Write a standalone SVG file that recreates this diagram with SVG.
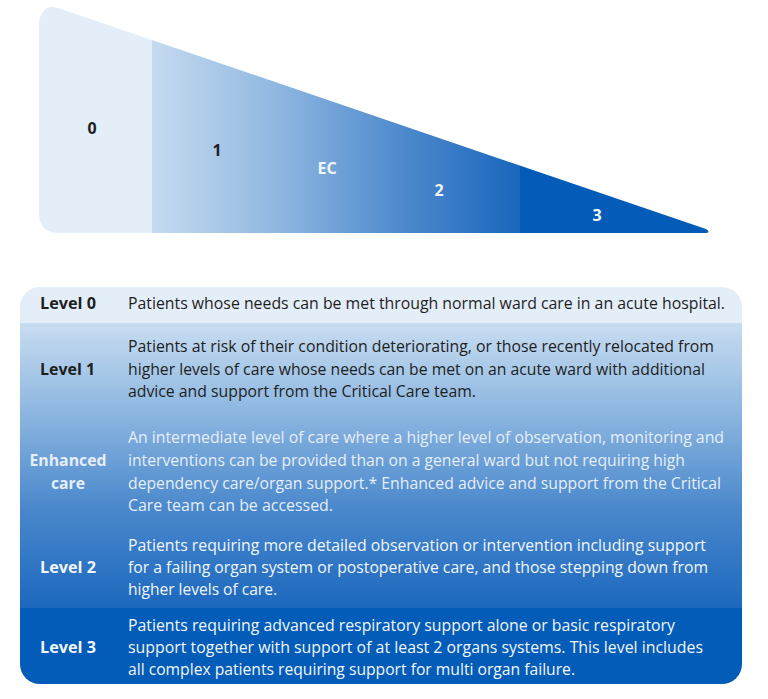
<svg xmlns="http://www.w3.org/2000/svg" width="768" height="699" viewBox="0 0 768 699">
<defs>
<style>
.t{font-family:"Open Sans","Noto Sans",sans-serif;font-size:16px;}
.b{font-family:"Open Sans","Noto Sans",sans-serif;font-size:16px;font-weight:bold;}
.dk{fill:#1e1e1e;}
.lt{fill:#f2f6fb;}
.ec{fill:#e6eef8;}
</style>
<linearGradient id="wg" x1="152" y1="0" x2="520" y2="0" gradientUnits="userSpaceOnUse">
<stop offset="0" stop-color="#c6dbf0"/>
<stop offset="0.35" stop-color="#8db6e0"/>
<stop offset="0.7" stop-color="#4a87cb"/>
<stop offset="1" stop-color="#1a67bd"/>
</linearGradient>
<linearGradient id="tg" x1="0" y1="323" x2="0" y2="608" gradientUnits="userSpaceOnUse">
<stop offset="0" stop-color="#c8ddf1"/>
<stop offset="0.3" stop-color="#8fb8e1"/>
<stop offset="0.65" stop-color="#4a88cc"/>
<stop offset="1" stop-color="#1c68be"/>
</linearGradient>
<clipPath id="wedge">
<path d="M39,26 C39,11 47,4 58,8 L706,229 Q712,233 704,233 L59,233 Q39,233 39,213 Z"/>
</clipPath>
<clipPath id="table">
<rect x="20" y="287" width="722" height="397" rx="20" ry="20"/>
</clipPath>
</defs>

<g id="pyramid" clip-path="url(#wedge)">
<rect x="30" y="0" width="122" height="240" fill="#e3eef8"/>
<rect x="152" y="0" width="368" height="240" fill="url(#wg)"/>
<rect x="520" y="0" width="200" height="240" fill="#055cb8"/>
</g>
<g id="pyramid-labels">
<text class="b dk" x="92" y="134" text-anchor="middle">0</text>
<text class="b dk" x="217" y="156" text-anchor="middle">1</text>
<text class="b lt" x="327" y="174" text-anchor="middle">EC</text>
<text class="b lt" x="439" y="196" text-anchor="middle">2</text>
<text class="b lt" x="597" y="221" text-anchor="middle">3</text>
</g>

<g id="table-bg" clip-path="url(#table)">
<rect x="20" y="287" width="722" height="36" fill="#e4eef8"/>
<rect x="20" y="323" width="722" height="285" fill="url(#tg)"/>
<rect x="20" y="608" width="722" height="76" fill="#035cb7"/>
</g>

<g id="level0">
<text class="b dk" x="40" y="309" textLength="56" lengthAdjust="spacingAndGlyphs">Level 0</text>
<text class="t dk" x="128" y="309" textLength="597" lengthAdjust="spacingAndGlyphs">Patients whose needs can be met through normal ward care in an acute hospital.</text>
</g>
<g id="level1">
<text class="b dk" x="40" y="375" textLength="55" lengthAdjust="spacingAndGlyphs">Level 1</text>
<text class="t dk" x="128" y="352" textLength="586" lengthAdjust="spacingAndGlyphs">Patients at risk of their condition deteriorating, or those recently relocated from</text>
<text class="t dk" x="128" y="375" textLength="577" lengthAdjust="spacingAndGlyphs">higher levels of care whose needs can be met on an acute ward with additional</text>
<text class="t dk" x="128" y="397" textLength="348" lengthAdjust="spacingAndGlyphs">advice and support from the Critical Care team.</text>
</g>
<g id="enhanced">
<text class="b ec" x="68" y="466" text-anchor="middle" textLength="77" lengthAdjust="spacingAndGlyphs">Enhanced</text>
<text class="b ec" x="68" y="489" text-anchor="middle" textLength="34" lengthAdjust="spacingAndGlyphs">care</text>
<text class="t ec" x="128" y="443" textLength="596" lengthAdjust="spacingAndGlyphs">An intermediate level of care where a higher level of observation, monitoring and</text>
<text class="t ec" x="128" y="466" textLength="557" lengthAdjust="spacingAndGlyphs">interventions can be provided than on a general ward but not requiring high</text>
<text class="t ec" x="128" y="489" textLength="593" lengthAdjust="spacingAndGlyphs">dependency care/organ support.* Enhanced advice and support from the Critical</text>
<text class="t ec" x="128" y="511" textLength="205" lengthAdjust="spacingAndGlyphs">Care team can be accessed.</text>
</g>
<g id="level2">
<text class="b lt" x="40" y="573" textLength="56" lengthAdjust="spacingAndGlyphs">Level 2</text>
<text class="t lt" x="128" y="551" textLength="578" lengthAdjust="spacingAndGlyphs">Patients requiring more detailed observation or intervention including support</text>
<text class="t lt" x="128" y="573" textLength="580" lengthAdjust="spacingAndGlyphs">for a failing organ system or postoperative care, and those stepping down from</text>
<text class="t lt" x="128" y="595" textLength="149" lengthAdjust="spacingAndGlyphs">higher levels of care.</text>
</g>
<g id="level3">
<text class="b lt" x="40" y="653" textLength="56" lengthAdjust="spacingAndGlyphs">Level 3</text>
<text class="t lt" x="128" y="631" textLength="547" lengthAdjust="spacingAndGlyphs">Patients requiring advanced respiratory support alone or basic respiratory</text>
<text class="t lt" x="128" y="653" textLength="575" lengthAdjust="spacingAndGlyphs">support together with support of at least 2 organs systems. This level includes</text>
<text class="t lt" x="128" y="675" textLength="447" lengthAdjust="spacingAndGlyphs">all complex patients requiring support for multi organ failure.</text>
</g>
</svg>
